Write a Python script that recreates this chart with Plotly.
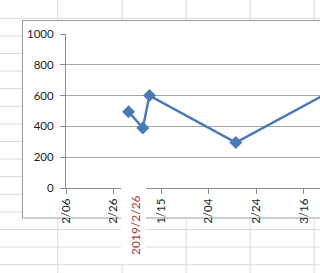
import plotly.graph_objects as go

# ---- data ----
days = [26.3, 32.3, 35.1, 71.4, 120]          # days after first tick
values = [495, 390, 600, 295, 700]
tick_days = [0, 20, 40, 60, 80, 100]
tick_labels = ["2/06", "2/26", "1/15", "2/04", "2/24", "3/16"]
y_ticks = [0, 200, 400, 600, 800, 1000]
cell_text = "2019/2/26"

W, H = 320, 273
ML, MT, MB, MR = 66, 34, 85, 0
PW, PH = W - ML - MR, H - MT - MB


def px_x(px):
    return (px - ML) / PW


def px_y(py):
    return (H - MB - py) / PH


FONT = "Lato, 'Open Sans', sans-serif"
GRID_SHEET = "#dadada"
TXT = "#1c1c1c"

shapes = []
# spreadsheet gridlines (background)
row_lines = [18.3 + 17.6 * k for k in range(15)]
col_lines = [57.7, 122, 186, 250, 314]
for ry in row_lines:
    shapes.append(dict(type="line", xref="paper", yref="paper", layer="below",
                       x0=px_x(-5), x1=px_x(330), y0=px_y(ry), y1=px_y(ry),
                       line=dict(color=GRID_SHEET, width=1)))
for cx in col_lines:
    shapes.append(dict(type="line", xref="paper", yref="paper", layer="below",
                       x0=px_x(cx), x1=px_x(cx), y0=px_y(-5), y1=px_y(280),
                       line=dict(color=GRID_SHEET, width=1)))
# chart area
shapes.append(dict(type="rect", xref="paper", yref="paper", layer="below",
                   x0=px_x(22.5), x1=px_x(340), y0=px_y(20.5), y1=px_y(218),
                   fillcolor="white", line=dict(color="#9a9a9a", width=1)))
# the spreadsheet cell lying over the chart
shapes.append(dict(type="rect", xref="paper", yref="paper", layer="above",
                   x0=px_x(121), x1=px_x(146), y0=px_y(178), y1=px_y(264),
                   fillcolor="white", line=dict(width=0)))

fig = go.Figure()
fig.add_trace(go.Scatter(
    x=days, y=values, mode="lines+markers",
    line=dict(color="#4A7AB5", width=2.5),
    marker=dict(symbol="diamond", size=10, color="#4A7AB5"),
    hoverinfo="skip",
))

fig.update_layout(
    width=W, height=H,
    margin=dict(l=ML, r=MR, t=MT, b=MB, pad=0),
    paper_bgcolor="white", plot_bgcolor="rgba(0,0,0,0)",
    showlegend=False, hovermode=False,
    font=dict(family=FONT, size=11.5, color=TXT),
    shapes=shapes,
    annotations=[dict(
        xref="paper", yref="paper", x=px_x(135), y=px_y(225),
        text=cell_text, showarrow=False, textangle=-90,
        font=dict(family=FONT, size=12, color="#A33A3A"),
        xanchor="center", yanchor="middle",
    )],
    xaxis=dict(
        range=[0, 106.8], tickmode="array", tickvals=tick_days, ticktext=tick_labels,
        tickangle=-90, ticks="outside", ticklen=5, tickcolor="#8c8c8c",
        showline=True, linecolor="#8c8c8c", linewidth=1,
        showgrid=False, zeroline=False, fixedrange=True,
        tickfont=dict(family=FONT, size=11.5, color=TXT),
    ),
    yaxis=dict(
        range=[0, 1000], tickmode="array", tickvals=y_ticks,
        ticks="outside", ticklen=5, tickcolor="#8c8c8c",
        showline=True, linecolor="#8c8c8c", linewidth=1,
        showgrid=True, gridcolor="#a6a6a6", gridwidth=1,
        zeroline=False, fixedrange=True, ticklabelstandoff=4,
        tickfont=dict(family=FONT, size=11.5, color=TXT),
    ),
)

fig.write_html("out.html", config={"displayModeBar": False})
